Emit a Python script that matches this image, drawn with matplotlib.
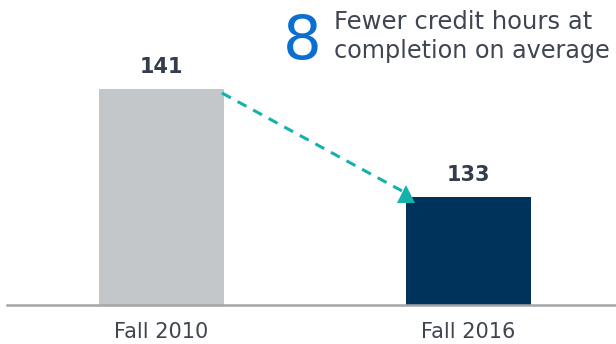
import matplotlib.pyplot as plt

# Average credit hours at completion
terms = ["Fall 2010", "Fall 2016"]
credit_hours = [141, 133]
bar_colors = ["#c3c7ca", "#00335c"]

text_color = "#333d4b"
label_color = "#3f4652"
teal = "#14b2ad"
blue = "#0a6fd0"

fig = plt.figure(figsize=(6.16, 3.44), dpi=100)
ax = fig.add_axes([7 / 616, 39 / 344, 609 / 616, 305 / 344])

xs = range(len(terms))
ax.bar(xs, credit_hours, width=0.407, color=bar_colors, bottom=0)
ax.set_ylim(125, 125 + 305 / 13.5)
ax.set_xlim(-0.503, 1.48)

for x, v in zip(xs, credit_hours):
    ax.text(x, v + 1.6, str(v), ha="center", va="center",
            fontsize=15, fontweight="bold", color=text_color)

# dashed line from the old value down to the new one, triangle marker at the end
ax.plot([0.197, 0.783], [140.7, 133.45], color=teal, lw=2.2,
        linestyle=(0, (3.3, 2.5)), solid_capstyle="butt")
ax.plot([0.796], [133.2], marker="^", ms=12.5, color=teal, mew=0,
        zorder=4)

# axis styling
for side in ["top", "right", "left"]:
    ax.spines[side].set_visible(False)
ax.spines["bottom"].set_color("#a3a5a8")
ax.spines["bottom"].set_linewidth(1.8)
ax.set_yticks([])
ax.set_xticks(list(xs))
ax.set_xticklabels(terms, fontsize=15, color=label_color)
ax.tick_params(axis="x", length=0, pad=12)

# callout
fig.text(302 / 616, 1 - 59 / 344, "8", fontsize=44, color=blue,
         ha="center", va="baseline")
fig.text(334 / 616, 1 - 22 / 344, "Fewer credit hours at", fontsize=17.5,
         color=label_color, ha="left", va="center")
fig.text(334 / 616, 1 - 51 / 344, "completion on average", fontsize=17.2,
         color=label_color, ha="left", va="center")

fig.savefig("out.png", dpi=100)
